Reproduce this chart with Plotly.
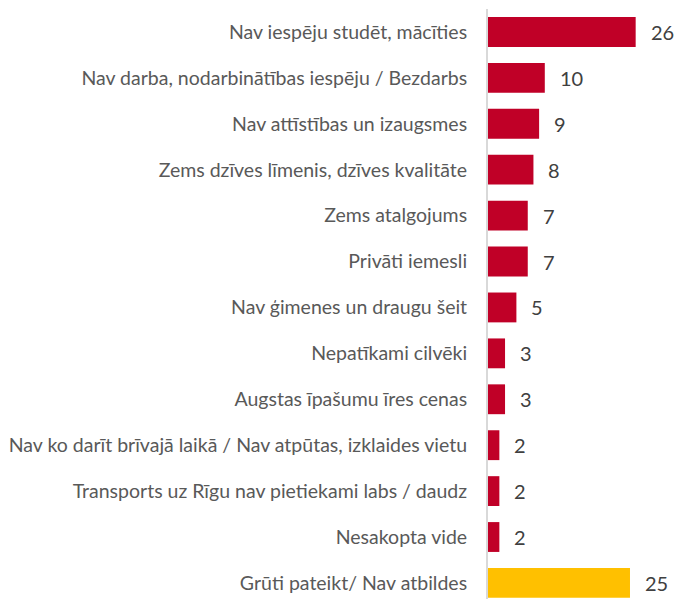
import plotly.graph_objects as go

categories = [
    "Nav iespēju studēt, mācīties",
    "Nav darba, nodarbinātības iespēju / Bezdarbs",
    "Nav attīstības un izaugsmes",
    "Zems dzīves līmenis, dzīves kvalitāte",
    "Zems atalgojums",
    "Privāti iemesli",
    "Nav ģimenes un draugu šeit",
    "Nepatīkami cilvēki",
    "Augstas īpašumu īres cenas",
    "Nav ko darīt brīvajā laikā / Nav atpūtas, izklaides vietu",
    "Transports uz Rīgu nav pietiekami labs / daudz",
    "Nesakopta vide",
    "Grūti pateikt/ Nav atbildes",
]
values = [26, 10, 9, 8, 7, 7, 5, 3, 3, 2, 2, 2, 25]
colors = ["#C00027"] * 12 + ["#FFC000"]

fig = go.Figure()
fig.add_trace(go.Bar(
    x=values,
    y=categories,
    orientation="h",
    marker=dict(color=colors, line=dict(width=0)),
    hoverinfo="skip",
))

# value labels to the right of each bar
for c, v in zip(categories, values):
    fig.add_annotation(
        x=v, y=c, text=str(v), showarrow=False,
        xanchor="left", xshift=13,
        font=dict(family="Lato", size=20, color="#404040"),
    )

fig.update_layout(
    width=678, height=599,
    margin=dict(l=488, r=2, t=9, b=0),
    plot_bgcolor="white", paper_bgcolor="white",
    bargap=0.35,
    showlegend=False,
    hovermode=False,
    font=dict(family="Lato", size=19, color="#595959"),
)
fig.update_xaxes(range=[0, 33.1], visible=False, showgrid=False, zeroline=False)
fig.update_yaxes(
    range=[12.35, -0.5],
    showline=True, linecolor="#D9D9D9", linewidth=2,
    showgrid=False, ticks="", ticklabelstandoff=15,
    tickfont=dict(family="Lato", size=19.5, color="#595959"),
)

# drop the default page margin so the figure fills the window
fig.write_html(
    "out.html",
    config={"displayModeBar": False},
    post_script="document.body.style.margin='0';document.body.style.overflow='hidden';",
)
